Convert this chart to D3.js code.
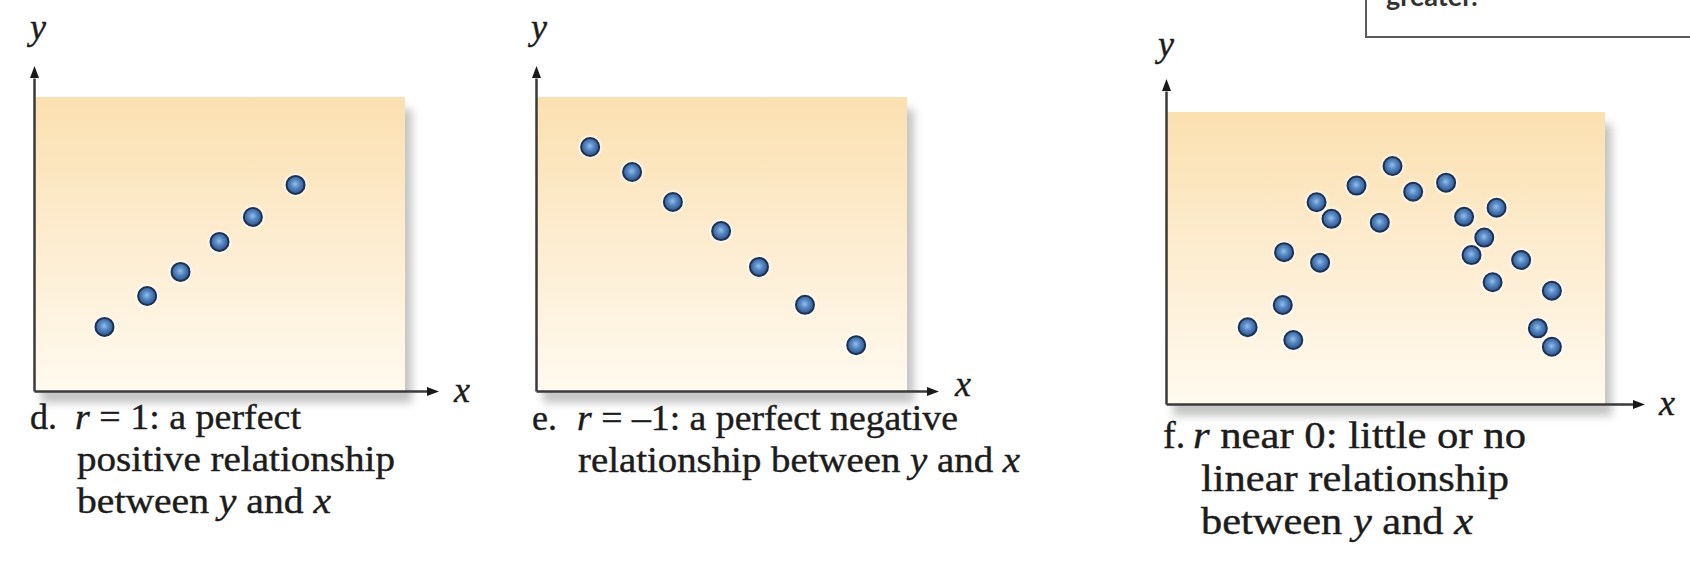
<!DOCTYPE html>
<html><head><meta charset="utf-8">
<script src="https://cdn.jsdelivr.net/npm/d3@7"></script>
<style>html,body{margin:0;padding:0;background:#fff;} svg{display:block;} text{white-space:pre;}</style>
</head><body>
<svg id="chart" width="1690" height="568"></svg>
<script>
// ---- data (unitless 0..10 positions) ----
const dX = [1.9, 3.05, 3.95, 5.0, 5.9, 7.05];
const dY = [2.18, 3.23, 4.05, 5.07, 5.92, 7.01];
const eX = [1.46, 2.59, 3.69, 4.99, 6.01, 7.25, 8.63];
const eY = [8.30, 7.45, 6.43, 5.44, 4.22, 2.93, 1.56];
const fX = [1.86, 2.66, 2.90, 2.69, 3.51, 3.43, 3.77, 4.34, 4.87, 5.16, 5.63, 6.38, 6.79, 7.53, 7.25, 6.96, 7.44, 8.09, 8.79, 8.47, 8.79];
const fY = [2.63, 3.39, 2.19, 5.20, 4.84, 6.91, 6.34, 7.48, 6.21, 8.15, 7.27, 7.58, 6.41, 6.72, 5.70, 5.10, 4.17, 4.93, 3.88, 2.59, 1.96];
const panelLetters = ["d.", "e.", "f."];
const captionD = [
  [["r", true], [" = 1: a perfect", false]],
  [["positive relationship", false]],
  [["between ", false], ["y", true], [" and ", false], ["x", true]]
];
const captionE = [
  [["r", true], [" = \u20131: a perfect negative", false]],
  [["relationship between ", false], ["y", true], [" and ", false], ["x", true]]
];
const captionF = [
  [["r", true], [" near 0: little or no", false]],
  [["linear relationship", false]],
  [["between ", false], ["y", true], [" and ", false], ["x", true]]
];
const axisNames = ["x", "y"];
const boxText = "greater.";

// ---- layout ----
const panels = [
  {xs: dX, ys: dY, cap: captionD, left: 34, right: 405, top: 97, bottom: 391, xTip: 439, yTip: 66,
   xLab: [462, 402], yLab: [38, 39], letterX: 30, lineX: [75, 77, 77], base: 429, lh: 42, fs: 36,
   widths: [226, 318, 254]},
  {xs: eX, ys: eY, cap: captionE, left: 536, right: 907, top: 97, bottom: 391, xTip: 939, yTip: 66,
   xLab: [963, 396], yLab: [539, 39], letterX: 532, lineX: [577, 578], base: 430, lh: 42, fs: 36,
   widths: [381, 442]},
  {xs: fX, ys: fY, cap: captionF, left: 1166, right: 1605, top: 112, bottom: 404, xTip: 1645, yTip: 79,
   xLab: [1667, 415], yLab: [1166, 56], letterX: 1163, lineX: [1193, 1201, 1201], base: 448, lh: 43, fs: 38,
   widths: [333, 308, 272]}
];

const serif = "'Liberation Serif', 'Times New Roman', Times, serif";
const svg = d3.select("#chart");
const defs = svg.append("defs");
const bg = defs.append("linearGradient").attr("id", "bgGrad").attr("x1", 0).attr("y1", 0).attr("x2", 0).attr("y2", 1);
bg.append("stop").attr("offset", "0%").attr("stop-color", "#fbe0b0");
bg.append("stop").attr("offset", "55%").attr("stop-color", "#fdeed4");
bg.append("stop").attr("offset", "100%").attr("stop-color", "#fffaef");
const dot = defs.append("radialGradient").attr("id", "dotGrad").attr("cx", "48%").attr("cy", "45%").attr("r", "55%");
dot.append("stop").attr("offset", "0%").attr("stop-color", "#93bfe8");
dot.append("stop").attr("offset", "45%").attr("stop-color", "#5485c2");
dot.append("stop").attr("offset", "100%").attr("stop-color", "#2c5189");
defs.append("filter").attr("id", "blur").attr("x", "-20%").attr("y", "-20%").attr("width", "140%").attr("height", "140%")
  .append("feGaussianBlur").attr("stdDeviation", 4);
defs.append("filter").attr("id", "soft").attr("x", "-50%").attr("y", "-50%").attr("width", "200%").attr("height", "200%")
  .append("feGaussianBlur").attr("stdDeviation", 1.2);

const arrowLen = 12, arrowHW = 4.5;
const textColor = "#1c1c1c";

panels.forEach((p, pi) => {
  const g = svg.append("g");
  const x = d3.scaleLinear().domain([0, 10]).range([p.left, p.right]);
  const y = d3.scaleLinear().domain([0, 10]).range([p.bottom, p.top]);

  // shadow + background
  g.append("rect").attr("x", x(0) + 7).attr("y", y(10) + 12)
    .attr("width", x(10) - x(0)).attr("height", y(0) - y(10))
    .attr("fill", "#8c8c8c").attr("opacity", 0.5).attr("filter", "url(#blur)");
  g.append("rect").attr("x", x(0)).attr("y", y(10))
    .attr("width", x(10) - x(0)).attr("height", y(0) - y(10))
    .attr("fill", "url(#bgGrad)");

  // points
  const pts = p.xs.map((v, i) => [v, p.ys[i]]);
  g.append("g").selectAll("circle").data(pts).join("circle")
    .attr("cx", d => x(d[0])).attr("cy", d => y(d[1])).attr("r", 11.5)
    .attr("fill", "#ffffff").attr("opacity", 0.75).attr("filter", "url(#soft)");
  g.append("g").selectAll("circle").data(pts).join("circle")
    .attr("cx", d => x(d[0])).attr("cy", d => y(d[1])).attr("r", 9)
    .attr("fill", "url(#dotGrad)").attr("stroke", "#1e3250").attr("stroke-width", 2);

  // axes
  const xEnd = p.xTip - arrowLen, yEnd = p.yTip + arrowLen;
  const xa = d3.scaleLinear().domain([0, x.invert(xEnd)]).range([p.left, xEnd]);
  const ya = d3.scaleLinear().domain([0, y.invert(yEnd)]).range([p.bottom, yEnd]);
  const styleAxis = s => s.select(".domain").attr("stroke", "#3a3a3a").attr("stroke-width", 2.5);
  g.append("g").attr("transform", `translate(0,${p.bottom})`)
    .call(d3.axisBottom(xa).tickValues([]).tickSizeOuter(0)).call(styleAxis);
  g.append("g").attr("transform", `translate(${p.left},0)`)
    .call(d3.axisLeft(ya).tickValues([]).tickSizeOuter(0)).call(styleAxis);
  const xt = xa.range()[1] + arrowLen, yt = ya.range()[1] - arrowLen;
  g.append("path").attr("d", `M${xt},${p.bottom + 0.5}L${xt - arrowLen},${p.bottom + 0.5 - arrowHW}L${xt - arrowLen},${p.bottom + 0.5 + arrowHW}Z`).attr("fill", "#1a1a1a");
  g.append("path").attr("d", `M${p.left + 0.5},${yt}L${p.left + 0.5 - arrowHW},${yt + arrowLen}L${p.left + 0.5 + arrowHW},${yt + arrowLen}Z`).attr("fill", "#1a1a1a");

  // axis names
  [[p.xLab, axisNames[0]], [p.yLab, axisNames[1]]].forEach(([pos, name]) => {
    g.append("text").attr("x", pos[0]).attr("y", pos[1]).attr("text-anchor", "middle")
      .attr("font-family", serif).attr("font-style", "italic").attr("font-size", 36)
      .attr("fill", textColor).attr("stroke", textColor).attr("stroke-width", 0.4).text(name);
  });

  // caption
  g.append("text").attr("x", p.letterX).attr("y", p.base)
    .attr("font-family", serif).attr("font-size", p.fs).attr("fill", textColor)
    .attr("stroke", textColor).attr("stroke-width", 0.4)
    .text(panelLetters[pi]);
  p.cap.forEach((line, li) => {
    const t = g.append("text").attr("x", p.lineX[li]).attr("y", p.base + li * p.lh)
      .attr("font-family", serif).attr("font-size", p.fs).attr("fill", textColor)
      .attr("stroke", textColor).attr("stroke-width", 0.4)
      .attr("textLength", p.widths[li]).attr("lengthAdjust", "spacingAndGlyphs");
    line.forEach(seg => t.append("tspan").attr("font-style", seg[1] ? "italic" : "normal").text(seg[0]));
  });
});

// clipped note box at top right
svg.append("rect").attr("x", 1366).attr("y", -20).attr("width", 400).attr("height", 57)
  .attr("fill", "#ffffff").attr("stroke", "#5a5a5a").attr("stroke-width", 2);
svg.append("text").attr("x", 1386).attr("y", 6).attr("font-family", "Lato, 'Open Sans', sans-serif")
  .attr("font-weight", 700).attr("font-size", 27).attr("fill", "#333").text(boxText);
</script>
</body></html>
